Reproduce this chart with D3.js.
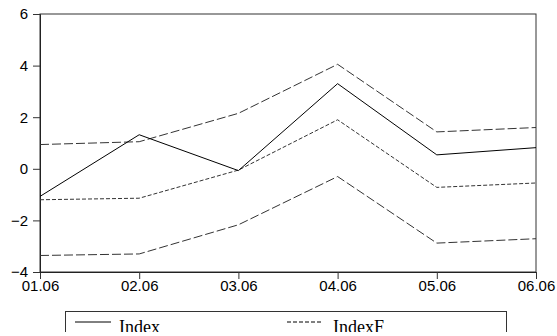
<!DOCTYPE html>
<html>
<head>
<meta charset="utf-8">
<script src="https://cdn.jsdelivr.net/npm/d3@7"></script>
<style>
  body { margin: 0; background: #fff; }
  svg { display: block; }
</style>
</head>
<body>
<div class="graph-container"></div>
<script>
var svgWidth = 557;
var svgHeight = 336;
var padLeft = 40, padRight = 21, padTop = 14, padBottom = 64;

// data
var months = ['01.06', '02.06', '03.06', '04.06', '05.06', '06.06'];
var index = [-1.07, 1.32, -0.07, 3.30, 0.54, 0.82];
var indexF = [-1.20, -1.14, -0.05, 1.90, -0.72, -0.55];
var upperBand = [0.94, 1.05, 2.15, 4.05, 1.43, 1.60];
var lowerBand = [-3.36, -3.30, -2.17, -0.30, -2.88, -2.71];
var yTicks = [-4, -2, 0, 2, 4, 6];

var svg = d3.select('.graph-container').append('svg')
  .attr('width', svgWidth)
  .attr('height', svgHeight);

var xScale = d3.scalePoint()
  .domain(months)
  .range([padLeft, svgWidth - padRight]);

var yScale = d3.scaleLinear()
  .domain([-4, 6])
  .range([svgHeight - padBottom, padTop]);

// frame (top and right)
svg.append('rect')
  .attr('x', padLeft)
  .attr('y', padTop)
  .attr('width', svgWidth - padRight - padLeft)
  .attr('height', svgHeight - padBottom - padTop)
  .attr('fill', 'none')
  .attr('stroke', '#333')
  .attr('stroke-width', 1);

// axes
var xAxis = d3.axisBottom(xScale).tickSize(7).tickPadding(1);
var gx = svg.append('g')
  .attr('transform', 'translate(0,' + (svgHeight - padBottom) + ')')
  .call(xAxis);

var yAxis = d3.axisLeft(yScale).tickValues(yTicks).tickSize(7).tickPadding(5);
var gy = svg.append('g')
  .attr('transform', 'translate(' + padLeft + ',0)')
  .call(yAxis);

[gx, gy].forEach(function(g) {
  g.select('.domain').attr('stroke', '#222');
  g.selectAll('.tick line').attr('stroke', '#333');
  g.selectAll('text')
    .attr('fill', '#000')
    .style('font-family', 'Liberation Sans, Arial, sans-serif')
    .style('font-size', '15px');
});

var line = d3.line()
  .x(function(d, i) { return xScale(months[i]); })
  .y(function(d) { return yScale(d); });

// series
var series = [
  { values: upperBand, dash: '9,3', color: '#333' },
  { values: lowerBand, dash: '9,3', color: '#333' },
  { values: indexF, dash: '4,2', color: '#333' },
  { values: index, dash: null, color: '#000' }
];

series.forEach(function(s) {
  svg.append('path')
    .datum(s.values)
    .attr('d', line)
    .attr('fill', 'none')
    .attr('stroke', s.color)
    .attr('stroke-width', 1)
    .attr('stroke-dasharray', s.dash);
});

// legend (the original picture is cut just under the legend text)
var legend = svg.append('g');
legend.append('rect')
  .attr('x', 65.5)
  .attr('y', 311.5)
  .attr('width', 441)
  .attr('height', 40)
  .attr('fill', 'none')
  .attr('stroke', '#333');

var legendItems = [
  { label: 'Index', x: 75, dash: null, tx: 119 },
  { label: 'IndexF', x: 287, dash: '4,2', tx: 333 }
];

legendItems.forEach(function(d) {
  legend.append('line')
    .attr('x1', d.x)
    .attr('x2', d.x + 36)
    .attr('y1', 322)
    .attr('y2', 322)
    .attr('stroke', '#000')
    .attr('stroke-dasharray', d.dash);
  legend.append('text')
    .attr('x', d.tx)
    .attr('y', 333)
    .style('font-family', 'Liberation Serif, Times New Roman, serif')
    .style('font-size', '18px')
    .text(d.label);
});

svg.append('rect')
  .attr('x', 0)
  .attr('y', 332)
  .attr('width', svgWidth)
  .attr('height', svgHeight - 332)
  .attr('fill', '#fff');
</script>
</body>
</html>
